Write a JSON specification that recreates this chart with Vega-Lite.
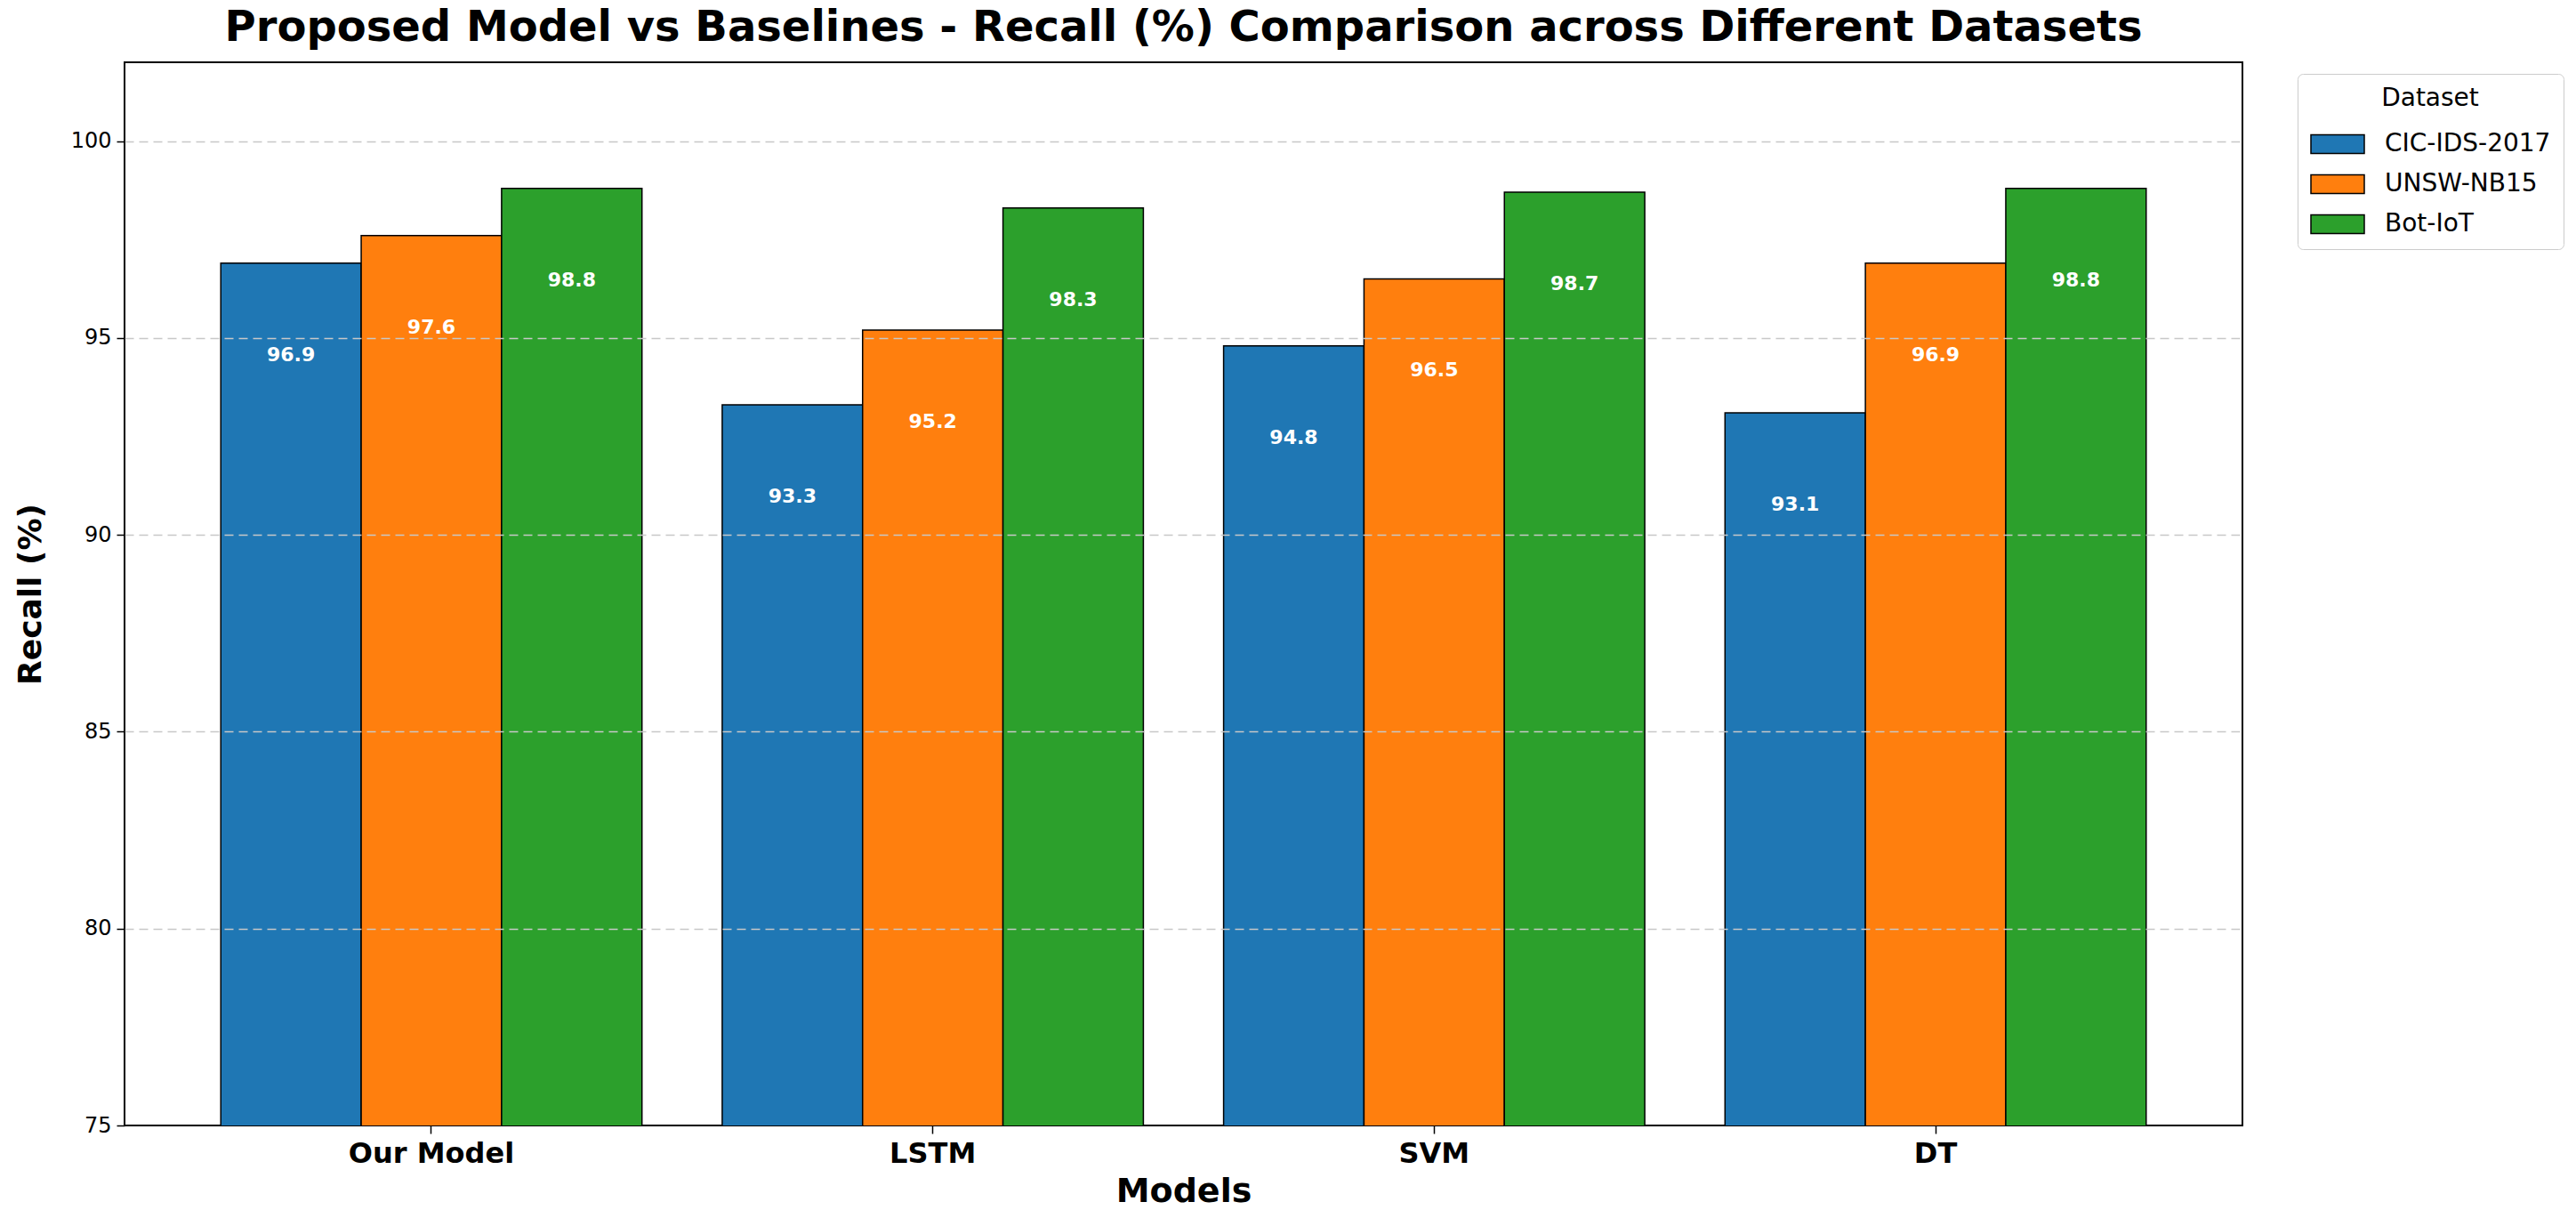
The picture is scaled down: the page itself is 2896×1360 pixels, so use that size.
{
  "$schema": "https://vega.github.io/schema/vega-lite/v6.json",
  "autosize": {"type": "none"},
  "width": 2381,
  "height": 1195,
  "padding": {"left": 140, "top": 70, "right": 375, "bottom": 95},
  "title": {
    "text": "Proposed Model vs Baselines - Recall (%) Comparison across Different Datasets",
    "font": "DejaVu Sans",
    "fontSize": 48,
    "fontWeight": "bold",
    "color": "black",
    "anchor": "middle",
    "offset": 14
  },
  "data": {
    "values": [
      {"Model": "Our Model", "Dataset": "CIC-IDS-2017", "Recall": 96.9},
      {"Model": "Our Model", "Dataset": "UNSW-NB15", "Recall": 97.6},
      {"Model": "Our Model", "Dataset": "Bot-IoT", "Recall": 98.8},
      {"Model": "LSTM", "Dataset": "CIC-IDS-2017", "Recall": 93.3},
      {"Model": "LSTM", "Dataset": "UNSW-NB15", "Recall": 95.2},
      {"Model": "LSTM", "Dataset": "Bot-IoT", "Recall": 98.3},
      {"Model": "SVM", "Dataset": "CIC-IDS-2017", "Recall": 94.8},
      {"Model": "SVM", "Dataset": "UNSW-NB15", "Recall": 96.5},
      {"Model": "SVM", "Dataset": "Bot-IoT", "Recall": 98.7},
      {"Model": "DT", "Dataset": "CIC-IDS-2017", "Recall": 93.1},
      {"Model": "DT", "Dataset": "UNSW-NB15", "Recall": 96.9},
      {"Model": "DT", "Dataset": "Bot-IoT", "Recall": 98.8}
    ]
  },
  "encoding": {
    "x": {
      "field": "Model",
      "type": "nominal",
      "sort": ["Our Model", "LSTM", "SVM", "DT"],
      "scale": {"paddingInner": 0.16, "paddingOuter": 0.192},
      "axis": {
        "title": "Models",
        "labelAngle": 0,
        "labelLimit": 600,
        "labelFont": "DejaVu Sans",
        "labelFontSize": 32,
        "labelFontWeight": "bold",
        "labelColor": "black",
        "labelPadding": 7,
        "tickColor": "black",
        "tickSize": 9,
        "tickWidth": 1.5,
        "domain": false,
        "titleFont": "DejaVu Sans",
        "titleFontSize": 38,
        "titleFontWeight": "bold",
        "titleColor": "black",
        "titlePadding": 8
      }
    },
    "xOffset": {
      "field": "Dataset",
      "type": "nominal",
      "sort": ["CIC-IDS-2017", "UNSW-NB15", "Bot-IoT"],
      "scale": {"paddingInner": 0, "paddingOuter": 0}
    },
    "y": {
      "field": "Recall",
      "type": "quantitative",
      "scale": {"domain": [75, 102], "zero": false, "nice": false},
      "axis": {
        "title": "Recall (%)",
        "values": [75, 80, 85, 90, 95, 100],
        "labelFont": "DejaVu Sans",
        "labelFontSize": 24,
        "labelColor": "black",
        "labelPadding": 6,
        "tickColor": "black",
        "tickSize": 9,
        "tickWidth": 1.5,
        "domain": false,
        "grid": true,
        "gridColor": "#c8c8c8",
        "gridDash": [10, 6],
        "gridWidth": 1.5,
        "gridOpacity": {"condition": {"test": "datum.value == 75", "value": 0}, "value": 1},
        "zindex": 1,
        "titleFont": "DejaVu Sans",
        "titleFontSize": 36,
        "titleFontWeight": "bold",
        "titleColor": "black",
        "titlePadding": 26
      }
    }
  },
  "layer": [
    {
      "mark": {"type": "bar", "stroke": "black", "strokeWidth": 1.5, "clip": true},
      "encoding": {
        "color": {
          "field": "Dataset",
          "type": "nominal",
          "sort": ["CIC-IDS-2017", "UNSW-NB15", "Bot-IoT"],
          "scale": {"range": ["#1f77b4", "#ff7f0e", "#2ca02c"]},
          "legend": {
            "title": "Dataset",
            "orient": "none",
            "legendX": 2443,
            "legendY": 13,
            "padding": 14,
            "strokeColor": "#cccccc",
            "fillColor": "white",
            "cornerRadius": 6,
            "titleFont": "DejaVu Sans",
            "titleFontSize": 28,
            "titleFontWeight": "normal",
            "titleColor": "black",
            "titleAnchor": "middle",
            "titlePadding": 6,
            "labelFont": "DejaVu Sans",
            "labelFontSize": 28,
            "labelColor": "black",
            "labelLimit": 400,
            "labelOffset": 22,
            "rowPadding": -6,
            "symbolType": "M-1,-0.35L1,-0.35L1,0.35L-1,0.35Z",
            "symbolSize": 3600,
            "symbolStrokeColor": "black",
            "symbolStrokeWidth": 1.5,
            "symbolOpacity": 1
          }
        }
      }
    },
    {
      "mark": {
        "type": "text",
        "baseline": "middle",
        "dy": 103,
        "font": "DejaVu Sans",
        "fontSize": 22,
        "fontWeight": "bold",
        "color": "white"
      },
      "encoding": {
        "text": {"field": "Recall", "type": "quantitative", "format": ".1f"}
      }
    }
  ],
  "config": {
    "view": {"stroke": "black", "strokeWidth": 2}
  }
}
